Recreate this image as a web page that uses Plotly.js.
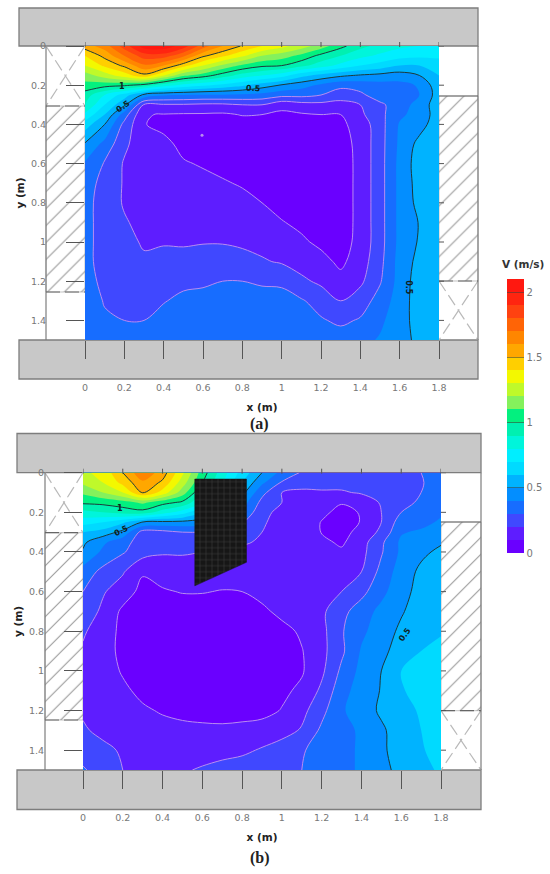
<!DOCTYPE html>
<html>
<head>
<meta charset="utf-8">
<script src="https://cdn.plot.ly/plotly-3.0.1.min.js"></script>
<style>body { margin: 0; background: white; }</style>
</head>
<body>
<div id="graphDiv"></div>
<script>
// grid the velocities were read on (m)
const xGrid = [0, 0.1, 0.2, 0.3, 0.4, 0.5, 0.6, 0.7, 0.8, 0.9, 1, 1.1, 1.2, 1.3, 1.4, 1.5, 1.6, 1.7, 1.8];
const yGrid = [0, 0.05, 0.1, 0.15, 0.2, 0.25, 0.3, 0.35, 0.4, 0.5, 0.6, 0.7, 0.8, 0.9, 1, 1.1, 1.2, 1.3, 1.4, 1.5];

// V (m/s), panel (a), one row per yGrid value
const speedA = [
  [1.55, 1.65, 1.85, 2.05, 2.07, 1.95, 1.75, 1.6, 1.49, 1.4, 1.33, 1.25, 1.15, 1.03, .93, .87, .82, .8, .78],
  [1.4, 1.53, 1.7, 1.85, 1.85, 1.72, 1.52, 1.42, 1.32, 1.2, 1.15, 1.07, .97, .9, .83, .78, .74, .72, .72],
  [1.3, 1.42, 1.52, 1.68, 1.6, 1.44, 1.3, 1.18, 1.08, 1.02, 1.0, .93, .85, .77, .7, .66, .6, .6, .65],
  [1.15, 1.25, 1.35, 1.47, 1.3, 1.12, 1.05, .95, .86, .8, .74, .63, .57, .52, .49, .47, .45, .5, .6],
  [1.07, 1.04, 1.02, .96, .85, .77, .72, .67, .62, .55, .49, .44, .38, .33, .34, .36, .37, .41, .57],
  [.95, .8, .65, .47, .41, .4, .39, .39, .38, .37, .33, .33, .3, .24, .28, .35, .37, .4, .55],
  [.9, .7, .52, .19, .19, .19, .18, .18, .2, .2, .13, .16, .17, .17, .2, .28, .35, .44, .56],
  [.78, .6, .35, .105, .095, .09, .09, .085, .105, .1, .08, .09, .1, .1, .18, .27, .38, .44, .55],
  [.65, .5, .27, .105, .07, .07, .05, .05, .06, .06, .06, .06, .07, .08, .14, .26, .41, .46, .56],
  [.49, .37, .22, .14, .13, .07, .06, .05, .05, .05, .05, .05, .05, .06, .13, .26, .42, .53, .57],
  [.39, .29, .19, .16, .15, .11, .09, .07, .06, .05, .05, .05, .05, .05, .13, .26, .43, .55, .57],
  [.34, .27, .19, .17, .16, .14, .13, .11, .09, .07, .05, .05, .05, .05, .13, .26, .43, .54, .57],
  [.33, .26, .19, .17, .17, .16, .15, .14, .13, .1, .07, .06, .05, .05, .13, .26, .43, .53, .57],
  [.33, .26, .21, .17, .18, .17, .17, .165, .155, .14, .105, .08, .06, .05, .13, .26, .43, .505, .57],
  [.33, .26, .24, .185, .19, .19, .195, .195, .185, .17, .145, .115, .08, .06, .13, .26, .43, .51, .57],
  [.33, .26, .27, .22, .24, .23, .24, .24, .23, .21, .19, .16, .13, .08, .15, .27, .44, .53, .57],
  [.36, .26, .29, .26, .27, .28, .29, .3, .3, .29, .285, .22, .18, .13, .18, .29, .44, .55, .57],
  [.38, .29, .29, .28, .295, .32, .32, .33, .33, .33, .33, .31, .26, .2, .25, .34, .45, .55, .57],
  [.38, .32, .3, .3, .33, .34, .34, .35, .35, .35, .35, .35, .31, .28, .31, .38, .46, .54, .57],
  [.39, .34, .33, .33, .35, .35, .35, .36, .36, .36, .36, .36, .36, .35, .37, .41, .47, .52, .57]
];

// V (m/s), panel (b)
const speedB = [
  [1.28, 1.33, 1.5, 1.68, 1.55, 1.32, 1.05, .85, .66, .5, .37, .29, .27, .27, .27, .27, .28, .3, .35],
  [1.22, 1.3, 1.43, 1.58, 1.48, 1.25, 1.0, .8, .6, .42, .29, .24, .23, .23, .23, .24, .26, .29, .36],
  [1.12, 1.2, 1.3, 1.51, 1.36, 1.15, .9, .7, .53, .33, .2, .18, .19, .19, .21, .22, .25, .3, .37],
  [1.02, 1.03, 1.06, 1.12, 1.04, .98, .8, .6, .45, .27, .2, .16, .14, .105, .14, .21, .26, .32, .37],
  [.87, .9, .94, .96, .85, .75, .6, .5, .4, .22, .18, .14, .115, .08, .105, .2, .3, .33, .38],
  [.74, .7, .62, .49, .47, .47, .45, .4, .31, .21, .17, .14, .097, .06, .105, .2, .35, .36, .42],
  [.6, .56, .47, .26, .27, .3, .3, .28, .25, .2, .16, .14, .097, .06, .14, .22, .39, .42, .46],
  [.52, .42, .34, .25, .24, .24, .24, .22, .21, .19, .16, .14, .12, .085, .16, .28, .42, .46, .49],
  [.49, .38, .31, .24, .21, .21, .2, .19, .18, .17, .15, .14, .13, .115, .17, .29, .42, .48, .52],
  [.36, .27, .21, .11, .14, .15, .15, .15, .15, .15, .15, .15, .15, .17, .2, .33, .45, .52, .55],
  [.3, .21, .15, .07, .09, .105, .105, .095, .1, .13, .15, .16, .17, .2, .27, .37, .47, .53, .56],
  [.26, .18, .08, .05, .05, .05, .05, .05, .05, .08, .125, .15, .18, .27, .35, .43, .49, .55, .58],
  [.21, .16, .07, .05, .05, .05, .05, .05, .05, .05, .07, .115, .17, .29, .38, .45, .52, .57, .59],
  [.19, .15, .07, .05, .05, .05, .05, .05, .05, .05, .05, .095, .17, .28, .41, .47, .55, .6, .63],
  [.19, .15, .09, .05, .05, .05, .05, .05, .05, .05, .05, .09, .18, .32, .43, .5, .6, .64, .66],
  [.19, .15, .12, .075, .05, .05, .05, .05, .05, .05, .08, .12, .22, .36, .45, .505, .59, .64, .66],
  [.19, .16, .14, .115, .09, .07, .06, .06, .06, .07, .105, .17, .27, .39, .44, .52, .57, .61, .65],
  [.21, .18, .16, .14, .135, .13, .125, .12, .13, .14, .16, .21, .32, .38, .41, .48, .56, .6, .65],
  [.26, .22, .19, .17, .165, .16, .16, .17, .18, .21, .25, .29, .34, .38, .41, .48, .55, .59, .64],
  [.31, .26, .2, .19, .19, .19, .21, .23, .25, .27, .29, .3, .34, .38, .41, .47, .53, .58, .61]
];

// obstacle in panel (b), metres
const obstacleX = [0.562, 0.822, 0.822, 0.562, 0.562];
const obstacleY = [0.032, 0.032, 0.452, 0.571, 0.032];

// isoline labels: text, x (m), y (m), angle
const isoLabelsA = [['1', 0.187, 0.207, 0], ['0.5', 0.195, 0.31, -35], ['0.5', 0.857, 0.218, 4], ['0.5', 1.645, 1.233, 90]];
const isoLabelsB = [['1', 0.188, 0.183, 0], ['0.5', 0.196, 0.292, -25], ['0.5', 1.62, 0.818, -55]];

// small closed isoline speck in panel (a)
const speckX = [0.595];
const speckY = [0.455];

const xTicks = [0, 0.2, 0.4, 0.6, 0.8, 1, 1.2, 1.4, 1.6, 1.8];
const yTicks = [0, 0.2, 0.4, 0.6, 0.8, 1, 1.2, 1.4];
const barTicks = [0, 0.5, 1, 1.5, 2];

// one colour per 0.1 m/s band, slowest first
const bandColors = ['#6a00ff', '#5533ff', '#3355ff', '#0a78ff', '#0096ff', '#00bcff', '#00e0ff',
  '#00f0ff', '#00f5d8', '#00f0b0', '#00f080', '#80f060', '#b8f830', '#f0ff00', '#ffd800',
  '#ffb000', '#ff9000', '#ff7000', '#ff5010', '#ff3010', '#ff1810'];

const W = 550, H = 874;
const colorscale = [[0, bandColors[0]]].concat(bandColors.map((c, i) => [(i + 1) / bandColors.length, c]));

// page pixels of the drawing around each plot
const panelA = { xa: 'x2', ya: 'y2', left: 19, right: 478, frameL: 46, plotL: 85, plotR: 439, barTop: 8, plotT: 46, plotB: 340, barBot: 379,
  hatchL: [106, 292], hatchR: [96, 281], z: speedA };
const panelB = { xa: 'x3', ya: 'y3', left: 17, right: 481, frameL: 45, plotL: 83, plotR: 441, barTop: 433.5, plotT: 472.7, plotB: 770, barBot: 809.5,
  hatchL: [532.7, 720], hatchR: [522, 710.7], z: speedB };

function wallShapes(p) {
  const rect = (x0, y0, x1, y1, fill) => ({ type: 'rect', xref: 'x', yref: 'y', x0, y0, x1, y1, fillcolor: fill,
    line: { color: '#7d7d7d', width: 1.3 }, layer: 'below' });
  return [rect(p.left, p.barTop, p.right, p.plotT, '#c8c8c8'), rect(p.left, p.plotB, p.right, p.barBot, '#c8c8c8')];
}

function supportTraces(p) {
  const out = [];
  const hatch = (x0, x1, ys) => out.push({ x: [x0, x1, x1, x0, x0], y: [ys[0], ys[0], ys[1], ys[1], ys[0]], type: 'scatter', mode: 'lines',
    fill: 'toself', fillcolor: 'white', line: { color: '#999', width: 0.6 },
    fillpattern: { shape: '/', size: 12, solidity: 0.09, fgcolor: '#9a9a9a', bgcolor: 'white' }, hoverinfo: 'skip', showlegend: false });
  const line = (xs, ys, color, width, dash) => out.push({ x: xs, y: ys, type: 'scatter', mode: 'lines',
    line: { color, width, dash: dash || 'solid' }, hoverinfo: 'skip', showlegend: false });
  hatch(p.frameL, p.plotL, p.hatchL);
  hatch(p.plotR, p.right, p.hatchR);
  // crossed window openings
  const cross = (x0, x1, y0, y1) => {
    line([x0, x1], [y0, y1], '#b9b9b9', 1.2, '12px,5px');
    line([x1, x0], [y0, y1], '#b9b9b9', 1.2, '12px,5px');
  };
  cross(p.frameL, p.plotL, p.plotT, p.hatchL[0]);
  cross(p.plotR, p.right, p.hatchR[1], p.plotB);
  // frame lines
  line([p.frameL, p.frameL], [p.plotT, p.plotB], '#7d7d7d', 1.2);
  line([p.right, p.right], [p.plotT, p.plotB], '#7d7d7d', 1.2);
  line([p.frameL, p.plotL], [p.hatchL[0], p.hatchL[0]], '#666', 1.2, '14px,5px');
  line([p.frameL, p.plotL], [p.hatchL[1], p.hatchL[1]], '#666', 1.2, '14px,5px');
  line([p.plotR, p.right], [p.hatchR[0], p.hatchR[0]], '#666', 1.2);
  line([p.plotR, p.right], [p.hatchR[1], p.hatchR[1]], '#666', 1.2, '14px,5px');
  return out;
}

function fieldTraces(p, withBar) {
  const base = { x: xGrid, y: yGrid, z: p.z, xaxis: p.xa, yaxis: p.ya, type: 'contour', hoverinfo: 'skip' };
  return [
    Object.assign({}, base, {
      zmin: 0, zmax: 2.1, colorscale, showscale: withBar,
      contours: { coloring: 'fill', start: 0, end: 2, size: 0.1, showlines: false },
      line: { width: 0 },
      colorbar: { x: 507 / W, xanchor: 'left', xpad: 0, thickness: 17, lenmode: 'pixels', len: 274,
        y: 1 - 553 / H, yanchor: 'bottom', ypad: 0, outlinewidth: 0,
        tickmode: 'array', tickvals: barTicks, ticktext: barTicks.map(String), ticks: 'inside', ticklen: 17,
        tickcolor: 'rgba(60,60,60,0.55)', tickfont: { family: 'DejaVu Sans', size: 10, color: '#777' } }
    }),
    // pale lines in the slow zone
    Object.assign({}, base, {
      showscale: false, contours: { coloring: 'none', start: 0.1, end: 0.3, size: 0.1 },
      line: { color: '#b98cf0', width: 1 }
    }),
    // black isolines
    Object.assign({}, base, {
      showscale: false, contours: { coloring: 'none', start: 0.5, end: 1.5, size: 0.5 },
      line: { color: '#1c3a3a', width: 1 }
    })
  ];
}

function axisPair(p, titleX, titleY) {
  const common = { showgrid: false, zeroline: false, showline: false, ticks: 'outside', ticklen: 18, tickwidth: 1, tickcolor: '#555',
    tickfont: { family: 'DejaVu Sans', size: 9.5, color: '#777' }, layer: 'above traces', tickmode: 'array' };
  const titleFont = { family: 'DejaVu Sans', size: 10.5, color: '#222' };
  return {
    x: Object.assign({}, common, { domain: [p.plotL / W, p.plotR / W], range: [0, 1.8], tickvals: xTicks, ticktext: xTicks.map(String),
      ticklabelstandoff: 21, anchor: p.ya, title: { text: '<b>' + titleX + '</b>', font: titleFont, standoff: 11 } }),
    y: Object.assign({}, common, { domain: [1 - p.plotB / H, 1 - p.plotT / H], range: [1.5, 0], tickvals: yTicks, ticktext: yTicks.map(String),
      ticklabelstandoff: 18, anchor: p.xa, title: { text: '<b>' + titleY + '</b>', font: titleFont, standoff: 4 } })
  };
}

// short ticks on the top and right edge of a plot
function edgeTicks(p) {
  const tick = { type: 'line', line: { color: '#555', width: 1 }, layer: 'above' };
  const top = xTicks.map(v => Object.assign({}, tick, { xref: p.xa, yref: 'y', x0: v, x1: v, y0: p.plotT - 4, y1: p.plotT + 1 }));
  const right = yTicks.map(v => Object.assign({}, tick, { xref: 'x', yref: p.ya, x0: p.plotR, x1: p.plotR + 5, y0: v, y1: v }));
  return top.concat(right);
}

function isoAnnotations(rows, p) {
  return rows.map(r => ({ text: '<b>' + r[0] + '</b>', xref: p.xa, yref: p.ya, x: r[1], y: r[2], textangle: r[3], showarrow: false,
    font: { family: 'DejaVu Sans', size: 8, color: '#102020' } }));
}

const pa = axisPair(panelA, 'x (m)', 'y (m)');
const pb = axisPair(panelB, 'x (m)', 'y (m)');

const data = [].concat(
  supportTraces(panelA), supportTraces(panelB),
  fieldTraces(panelA, true), fieldTraces(panelB, false),
  [{ x: obstacleX, y: obstacleY, xaxis: 'x3', yaxis: 'y3', type: 'scatter', mode: 'lines', fill: 'toself',
     fillcolor: '#1e1e1e', line: { color: '#151515', width: 0.5 },
     fillpattern: { shape: '+', size: 6, solidity: 0.2, fgcolor: '#383838', bgcolor: '#161616' },
     hoverinfo: 'skip', showlegend: false },
   { x: speckX, y: speckY, xaxis: 'x2', yaxis: 'y2', type: 'scatter', mode: 'markers',
     marker: { size: 3, color: '#b98cf0' }, hoverinfo: 'skip', showlegend: false }]
);

const layout = {
  width: W, height: H, autosize: false, margin: { l: 0, r: 0, t: 0, b: 0, autoexpand: false }, showlegend: false,
  paper_bgcolor: 'white', plot_bgcolor: 'rgba(0,0,0,0)',
  // page-pixel axes that carry the walls and windows
  xaxis: { domain: [0, 1], range: [0, W], visible: false, fixedrange: true },
  yaxis: { domain: [0, 1], range: [H, 0], visible: false, fixedrange: true },
  xaxis2: pa.x, yaxis2: pa.y, xaxis3: pb.x, yaxis3: pb.y,
  shapes: [].concat(wallShapes(panelA), wallShapes(panelB), edgeTicks(panelA), edgeTicks(panelB)),
  annotations: [
    { text: '<b>(a)</b>', xref: 'x', yref: 'y', x: 259, y: 424, showarrow: false, font: { family: 'Liberation Serif', size: 16, color: '#222' } },
    { text: '<b>(b)</b>', xref: 'x', yref: 'y', x: 260, y: 858, showarrow: false, font: { family: 'Liberation Serif', size: 16, color: '#222' } },
    { text: '<b>V (m/s)</b>', xref: 'x', yref: 'y', x: 523, y: 264, showarrow: false, font: { family: 'DejaVu Sans', size: 10.5, color: '#333' } }
  ].concat(isoAnnotations(isoLabelsA, panelA), isoAnnotations(isoLabelsB, panelB))
};

Plotly.newPlot('graphDiv', data, layout, { displayModeBar: false, staticPlot: true });
</script>
</body>
</html>
